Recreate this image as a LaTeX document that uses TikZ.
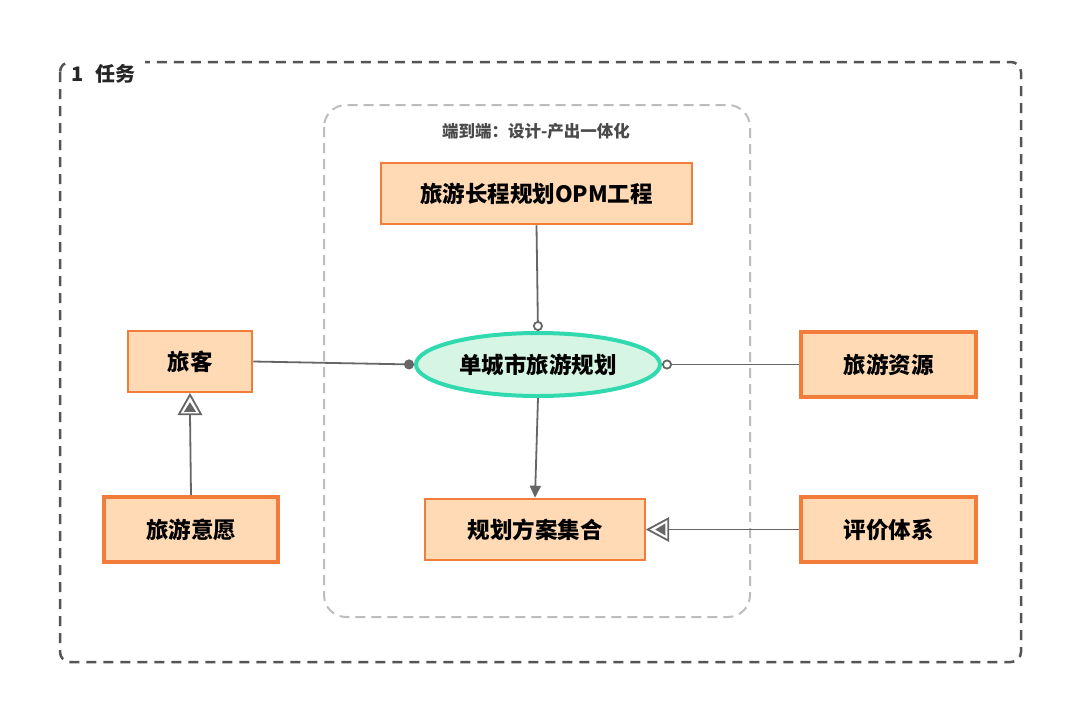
\documentclass[tikz,border=0pt]{standalone}
\usepackage{fontspec}
\setmainfont{Noto Sans CJK SC}
\usetikzlibrary{arrows.meta,shapes.geometric,calc}
\definecolor{peach}{HTML}{FFDAB5}
\definecolor{orng}{HTML}{F27C3A}
\definecolor{mint}{HTML}{D6F5E4}
\definecolor{tealc}{HTML}{30D9AE}
\definecolor{lnk}{HTML}{666666}
\definecolor{outerc}{HTML}{555555}
\definecolor{innerc}{HTML}{BDBDBD}
\definecolor{labc}{HTML}{4A4A4A}
\tikzset{
  obj/.style={draw=orng, fill=peach, line width=2.5pt, inner sep=0pt, font=\fontsize{22.5}{26}\selectfont\bfseries},
  objthick/.style={obj, line width=4pt},
  proc/.style={ellipse, draw=tealc, fill=mint, line width=4pt, inner sep=0pt, font=\fontsize{22.5}{26}\selectfont\bfseries},
  lnkline/.style={draw=lnk, line width=1.8pt},
  outerbox/.style={draw=outerc, line width=2.5pt, dash pattern=on 10pt off 7pt, rounded corners=10pt},
  innerbox/.style={draw=innerc, line width=2pt, dash pattern=on 10pt off 6pt, rounded corners=22pt},
}
\begin{document}
\begin{tikzpicture}[x=1pt,y=-1pt]
\fill[white] (0,0) rectangle (1080,724);
\useasboundingbox (0,0) rectangle (1080,724);

% containers
\draw[outerbox] (60,62) rectangle (1021,662);
\fill[white] (66,58) rectangle (145,89);
\node[anchor=west, inner sep=0pt, font=\fontsize{20}{23}\selectfont\bfseries, text=black!85] (tl) at (71,74) {1\hspace{12pt}任务};
\draw[innerbox] (324,105) rectangle (750,617);
\node[font=\fontsize{16.5}{20}\selectfont\bfseries, text=labc] (il) at (536,131) {端到端：设计-产出一体化};

% nodes
\node[obj, minimum width=311pt, minimum height=61pt] (opm) at (536.5,193.5) {旅游长程规划OPM工程};
\node[proc, minimum width=244pt, minimum height=63pt] (pr) at (538,364.5) {单城市旅游规划};
\node[obj, minimum width=124pt, minimum height=61pt] (lk) at (190,361.5) {旅客};
\node[objthick, minimum width=175pt, minimum height=65pt] (res) at (888.5,364.5) {旅游资源};
\node[objthick, minimum width=174pt, minimum height=65pt] (will) at (191,529.5) {旅游意愿};
\node[obj, minimum width=220pt, minimum height=61pt] (set) at (535,529.5) {规划方案集合};
\node[objthick, minimum width=175pt, minimum height=65pt] (eval) at (888.5,529.5) {评价体系};

% links
\draw[lnkline, -{Circle[open, length=10pt, width=10pt, line width=1.8pt]}] (opm.south) -- (pr.north);
\draw[lnkline, -{Circle[length=10pt, width=10pt]}] (lk.east) -- (pr.west);
\draw[lnkline, {Circle[open, length=10pt, width=10pt, line width=1.8pt]}-] (pr.east) -- (res.west);
\draw[lnkline, -{Triangle[length=12pt, width=11pt]}, fill=lnk] (pr.south) -- (set.north);

% exhibition links
\coordinate (b1) at ($(lk.south)+(0,21)$);
\draw[lnkline] (will.north) -- (b1);
\draw[lnkline, fill=white, line join=miter] ($(lk.south)+(0,1.5)$) -- ++(-11,19.5) -- ++(22,0) -- cycle;
\fill[lnk] ($(lk.south)+(0,9)$) -- ++(-6,9.5) -- ++(12,0) -- cycle;

\coordinate (b2) at ($(set.east)+(22,0)$);
\draw[lnkline] (eval.west) -- (b2);
\draw[lnkline, fill=white, line join=miter] ($(set.east)+(1.5,0)$) -- ++(20.5,-11) -- ++(0,22) -- cycle;
\fill[lnk] ($(set.east)+(9,0)$) -- ++(10,-6) -- ++(0,12) -- cycle;
\end{tikzpicture}
\end{document}
